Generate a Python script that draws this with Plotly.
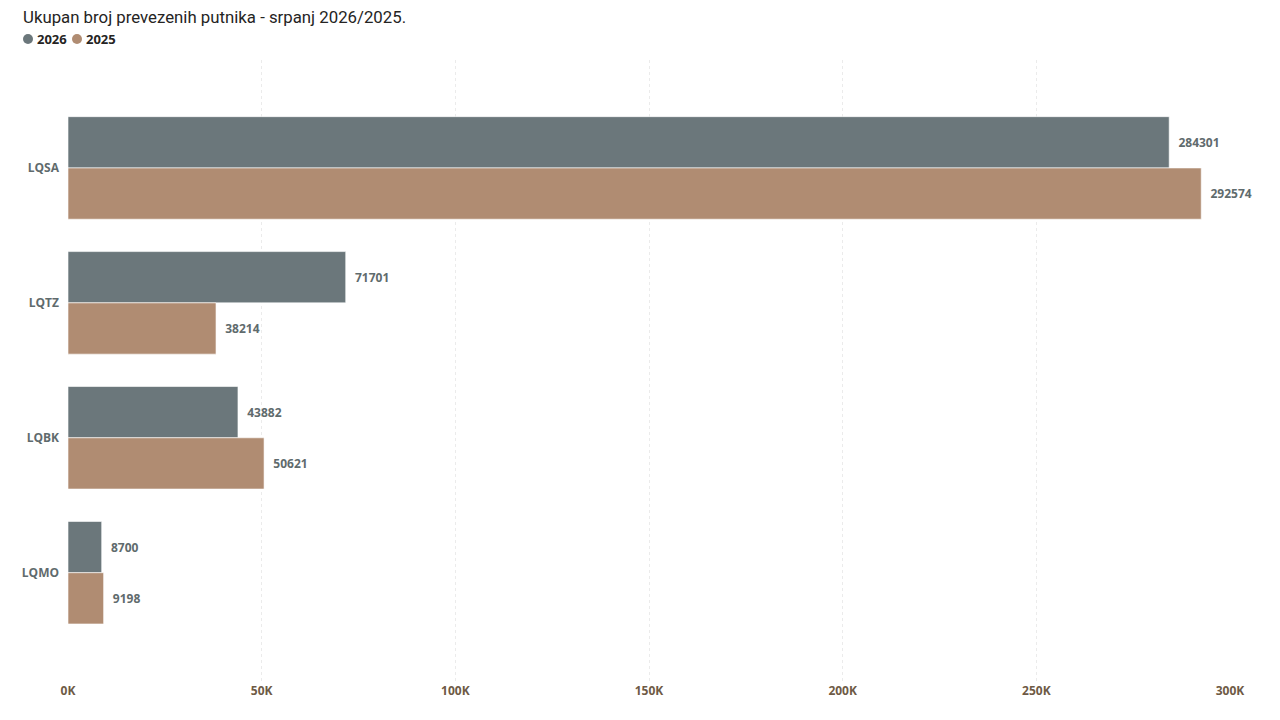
import plotly.graph_objects as go

# data
airports = ["LQSA", "LQTZ", "LQBK", "LQMO"]
years = ["2026", "2025"]
putnici_2026 = [284301, 71701, 43882, 8700]
putnici_2025 = [292574, 38214, 50621, 9198]
x_ticks = [0, 50000, 100000, 150000, 200000, 250000, 300000]
x_tick_labels = ["0K", "50K", "100K", "150K", "200K", "250K", "300K"]

GREY = "#6b777b"
TAN = "#b08c72"
LABEL = "#5f6b6d"
BOLD = "Open Sans"

# plot area size in px (used to place the title / legend outside it)
PW, PH = 1162, 622

fig = go.Figure()

for name, vals, color in [(years[0], putnici_2026, GREY), (years[1], putnici_2025, TAN)]:
    fig.add_trace(go.Bar(
        y=airports, x=vals, name=name, orientation="h",
        marker=dict(color=color, line=dict(color="rgba(255,255,255,0.6)", width=1)),
        text=["\u00a0\u00a0" + str(v) for v in vals], textposition="outside",
        textfont=dict(family=BOLD, size=12, color=LABEL, weight="bold"),
        cliponaxis=False, showlegend=False, hoverinfo="x+y",
    ))

# custom legend: round dots + bold year labels
legend_shapes = []
legend_notes = []
for i, (y, c) in enumerate(zip(years, [GREY, TAN])):
    cx = (-40 + i * 49) / PW
    legend_shapes.append(dict(
        type="circle", xref="paper", yref="paper", xsizemode="pixel", ysizemode="pixel",
        xanchor=cx, yanchor=1 + 21 / PH, x0=-5, x1=5, y0=-5, y1=5,
        fillcolor=c, line=dict(width=0),
    ))
    legend_notes.append(dict(
        text=y, xref="paper", yref="paper", x=cx + 7 / PW, y=1 + 21 / PH,
        xanchor="left", yanchor="middle", showarrow=False,
        font=dict(family=BOLD, size=13, color="#252423", weight="bold"),
    ))

# the page body adds 8px, so margins are 8px smaller on the left/top
fig.update_layout(
    width=1280, height=720,
    margin=dict(l=60, r=58, t=52, b=46, autoexpand=False),
    paper_bgcolor="white", plot_bgcolor="white",
    barmode="group", bargap=0.24, bargroupgap=0,
    showlegend=False,
    shapes=legend_shapes,
    annotations=[
        dict(text="Ukupan broj prevezenih putnika - srpanj 2026/2025.",
             xref="paper", yref="paper", x=-47 / PW, y=1 + 43 / PH,
             xanchor="left", yanchor="middle", showarrow=False,
             font=dict(family="Roboto", size=16.8, color="#252423")),
    ] + legend_notes,
    xaxis=dict(
        range=[0, 300000], tickvals=x_ticks, ticktext=x_tick_labels,
        showgrid=True, gridcolor="#ebebeb", griddash="dot", gridwidth=1,
        zeroline=False, showline=False, ticks="", automargin=False,
        tickfont=dict(family=BOLD, size=12, color="#6e5a45", weight="bold"),
    ),
    yaxis=dict(
        range=[3.81, -0.8], showgrid=False, zeroline=False, ticks="",
        ticklabelstandoff=8, automargin=False,
        tickfont=dict(family=BOLD, size=12, color=LABEL, weight="bold"),
    ),
)

fig.write_html("out.html")
